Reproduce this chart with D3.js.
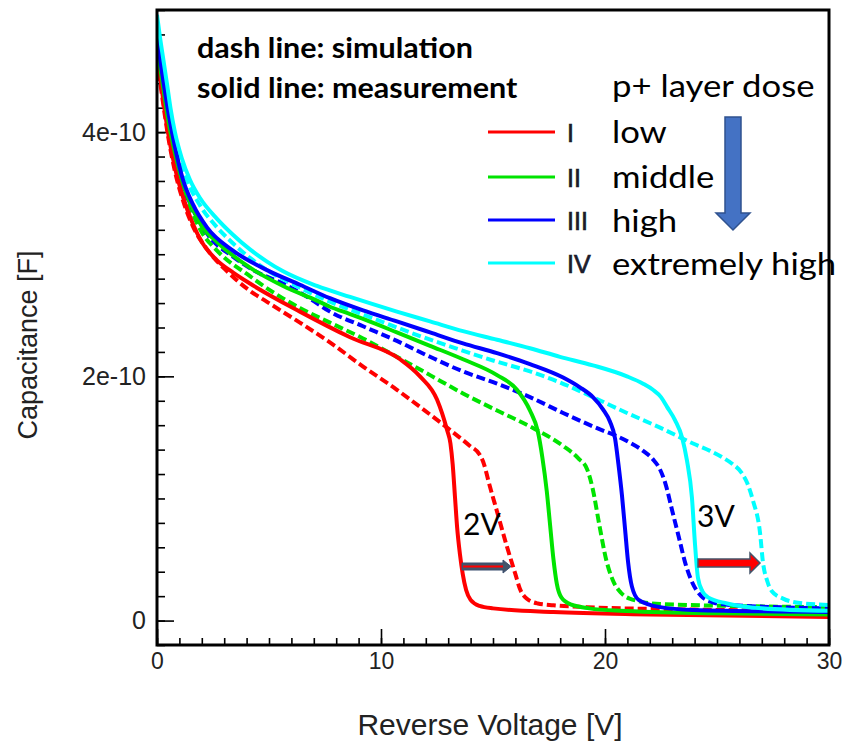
<!DOCTYPE html>
<html>
<head>
<meta charset="utf-8">
<script src="https://cdn.jsdelivr.net/npm/d3@7"></script>
<style>
  html, body { margin: 0; padding: 0; background: #fff; }
  svg { display: block; }
</style>
</head>
<body>
<svg id="chart" width="844" height="746"></svg>
<script>
// ---------------- DATA (capacitance in pF, i.e. 1e-12 F) ----------------
const xTickLabels = ["0", "10", "20", "30"];
const yTickValues = [0, 200, 400];
const yTickLabels = ["0", "2e-10", "4e-10"];

// I - low dose
const vMeasI = [0, 0.2, 0.5, 0.8, 1.16, 1.6, 2.0, 2.68, 3.4, 4.15, 6.38, 8.62, 10.85, 11.74, 12.5, 12.95, 13.1, 13.2, 13.3, 13.4, 13.52, 13.65, 13.8, 14.0, 14.4, 15, 17.7, 22, 30];
const cMeasI = [465, 437, 399, 371, 347, 325, 310, 295, 285, 276, 253, 232, 214, 200, 181, 156, 145, 128, 102, 76, 55, 38, 25, 17, 12, 10, 7, 5, 3];
const vSimI = [0, 0.2, 0.5, 0.8, 1.16, 1.6, 2.28, 3.13, 4.15, 4.91, 6.38, 7.86, 9.2, 10.71, 11.74, 12.95, 13.97, 14.4, 14.6, 14.8, 15.2, 15.6, 16.0, 16.2, 16.5, 17.0, 17.7, 19.2, 24, 30];
const cSimI = [460, 433, 396, 368, 344, 323, 303, 286, 270, 261, 244, 226, 208, 189, 175, 158, 143, 136, 128, 114, 88, 62, 38, 26, 18, 14, 12.5, 11, 9, 8];

// II - middle dose
const vMeasII = [0, 0.2, 0.5, 0.8, 1.16, 1.6, 2.0, 2.68, 4.15, 5.63, 7.14, 7.72, 8.62, 9.2, 10.71, 12.19, 13.66, 15.18, 16.07, 16.65, 17.0, 17.2, 17.4, 17.55, 17.7, 17.85, 18.05, 18.5, 19.3, 20.67, 25, 30];
const cMeasII = [470, 446, 410, 383, 358, 337, 323, 310, 289, 274, 262, 257, 251, 247, 236, 225, 214, 201, 189, 172, 155, 134, 106, 78, 50, 30, 19, 13, 10, 8, 6, 5];
const vSimII = [0, 0.2, 0.5, 0.8, 1.16, 1.6, 2.0, 2.68, 4.15, 5.0, 6.38, 7.72, 9.2, 10.71, 12.19, 13.66, 15.18, 16.65, 18.13, 18.8, 19.2, 19.45, 19.75, 20.05, 20.35, 20.7, 21.1, 22.46, 30];
const cSimII = [466, 441, 405, 378, 354, 333, 318, 303, 282, 271, 256, 244, 231, 216, 201, 186, 172, 159, 143, 133, 124, 108, 78, 50, 33, 23, 18, 13.5, 11];

// III - high dose
const vMeasIII = [0, 0.2, 0.5, 0.8, 1.16, 1.6, 2.23, 3.39, 4.91, 6.38, 7.72, 9.2, 10.71, 12.19, 13.66, 15.18, 16.65, 18.13, 18.88, 19.46, 19.91, 20.22, 20.45, 20.6, 20.76, 20.9, 21.03, 21.2, 21.5, 22.46, 23.93, 30];
const cMeasIII = [478, 452, 417, 388, 361, 341, 322, 303, 287, 275, 264, 254, 245, 236, 227, 219, 210, 199, 191, 183, 173, 163, 149, 128, 102, 74, 48, 28, 17, 11, 8.7, 7];
const vSimIII = [0, 0.2, 0.5, 0.8, 1.16, 1.6, 2.23, 3.39, 4.5, 5.63, 6.8, 7.72, 9.2, 10.71, 12.19, 13.66, 15.18, 16.65, 18.13, 19.46, 20.98, 21.7, 22.14, 22.45, 22.7, 23.0, 23.3, 23.6, 23.9, 24.3, 24.8, 25.45, 30];
const cSimIII = [474, 448, 413, 384, 357, 337, 317, 298, 285, 276, 264, 253, 241, 229, 216, 204, 194, 183, 170, 159, 147, 139, 132, 124, 112, 90, 68, 46, 31, 20, 15, 13, 10];

// IV - extremely high dose
const vMeasIV = [0, 0.13, 0.27, 0.45, 0.6, 0.8, 1.1, 1.47, 1.92, 2.68, 3.39, 4.15, 4.91, 5.63, 7.14, 8.62, 10.71, 12.19, 13.66, 15.18, 16.65, 17.99, 19.46, 20.98, 21.7, 22.14, 22.5, 22.77, 23.13, 23.44, 23.66, 23.88, 24.02, 24.15, 24.35, 24.6, 25.45, 27, 30];
const cMeasIV = [496, 478, 461, 439, 420, 400, 379, 361, 346, 329, 316, 304, 294, 286, 274, 265, 253, 245, 237, 230, 223, 216, 209, 200, 194, 189, 183, 175, 164, 150, 131, 101, 62, 35, 24, 19, 14, 10, 8];
const vSimIV = [0, 0.13, 0.27, 0.45, 0.6, 0.8, 1.1, 1.47, 1.92, 2.68, 3.39, 4.15, 5, 6, 7, 8, 9, 10, 11.74, 13.5, 15, 16.65, 17.99, 19.46, 20.98, 22.46, 23.93, 24.69, 25.3, 25.71, 26.1, 26.34, 26.61, 26.92, 27.05, 27.25, 27.45, 27.95, 28.7, 30];
const cSimIV = [490, 473, 456, 434, 415, 394, 373, 355, 340, 322, 309, 297, 286, 276, 267, 259, 252, 245, 233, 222, 213, 204, 195, 183, 170, 158, 145, 139, 133, 128, 121, 113, 98, 72, 48, 32, 24, 18, 14.4, 12.8];

const seriesNames = ["I", "II", "III", "IV"];
const doseLabels = ["low", "middle", "high", "extremely high"];
const seriesColors = ["#ff0000", "#00e400", "#0000ff", "#00ffff"];

// ---------------- CHART ----------------
const svg = d3.select("#chart");
svg.append("rect").attr("width", 844).attr("height", 746).attr("fill", "#fff");

const x = d3.scaleLinear().domain([0, 30]).range([157, 829]);
const y = d3.scaleLinear().domain([-20, 500]).range([645, 10]);

svg.append("clipPath").attr("id", "clip")
  .append("rect").attr("x", 157).attr("y", 10).attr("width", 672).attr("height", 635);

const axisFont = "'Liberation Sans', Arial, sans-serif";
// x axis: minor + major ticks (inward)
const gx = svg.append("g").attr("transform", "translate(0,645)");
gx.call(d3.axisBottom(x).tickValues(d3.range(0, 31, 1)).tickSize(-7).tickFormat(""));
gx.call(g => g.select(".domain").remove());
const gxM = svg.append("g").attr("class", "xmaj").attr("transform", "translate(0,645)");
gxM.call(d3.axisBottom(x).tickValues([0, 10, 20, 30]).tickSize(-16).tickPadding(8)
  .tickFormat((d, i) => xTickLabels[i]));
gxM.call(g => g.select(".domain").remove());

// y axis: minor + major ticks (inward)
const gy = svg.append("g").attr("transform", "translate(157,0)");
gy.call(d3.axisLeft(y).tickValues(d3.range(-20, 501, 20)).tickSize(-8).tickFormat(""));
gy.call(g => g.select(".domain").remove());
const gyM = svg.append("g").attr("class", "ymaj").attr("transform", "translate(157,0)");
gyM.call(d3.axisLeft(y).tickValues(yTickValues).tickSize(-17).tickPadding(11)
  .tickFormat((d, i) => yTickLabels[i]));
gyM.call(g => g.select(".domain").remove());

svg.selectAll(".tick line").attr("stroke", "#000").attr("stroke-width", 1.6);
svg.selectAll(".tick text").attr("font-family", axisFont).attr("fill", "#222");
svg.selectAll(".xmaj .tick text").attr("font-size", 23);
svg.selectAll(".ymaj .tick text").attr("font-size", 25);

// curves
const line = d3.line().x(d => x(d[0])).y(d => y(d[1])).curve(d3.curveMonotoneX);
const measV = [vMeasI, vMeasII, vMeasIII, vMeasIV];
const measC = [cMeasI, cMeasII, cMeasIII, cMeasIV];
const simV = [vSimI, vSimII, vSimIII, vSimIV];
const simC = [cSimI, cSimII, cSimIII, cSimIV];

const curves = svg.append("g").attr("clip-path", "url(#clip)");
for (let i = 0; i < 4; i++) {
  const pts = simV[i].map((v, j) => [v, simC[i][j]]);
  curves.append("path").attr("d", line(pts)).attr("fill", "none")
    .attr("stroke", seriesColors[i]).attr("stroke-width", 4)
    .attr("stroke-dasharray", "9,4");
}
for (let i = 0; i < 4; i++) {
  const pts = measV[i].map((v, j) => [v, measC[i][j]]);
  curves.append("path").attr("d", line(pts)).attr("fill", "none")
    .attr("stroke", seriesColors[i]).attr("stroke-width", 4);
}

// frame
svg.append("rect").attr("x", 157).attr("y", 10).attr("width", 672).attr("height", 635)
  .attr("fill", "none").attr("stroke", "#000").attr("stroke-width", 3);

// axis titles
svg.append("text").attr("x", 490).attr("y", 735).attr("text-anchor", "middle")
  .attr("font-family", axisFont).attr("font-size", 30).attr("fill", "#222")
  .text("Reverse Voltage [V]");
svg.append("text").attr("transform", "translate(37,345) rotate(-90)").attr("text-anchor", "middle")
  .attr("font-family", axisFont).attr("font-size", 27).attr("fill", "#222")
  .text("Capacitance [F]");

// annotations
const annFont = "Lato, 'Open Sans', sans-serif";
function stretchedText(xp, yp, sx, size, weight, txt) {
  svg.append("text").attr("transform", `translate(${xp},${yp}) scale(${sx},1)`)
    .attr("font-family", annFont).attr("font-weight", weight)
    .attr("font-size", size).attr("fill", "#000").text(txt);
}
stretchedText(197, 58, 1.09, 28, "bold", "dash line: simulation");
stretchedText(197, 98, 1.09, 28, "bold", "solid line: measurement");
stretchedText(612, 97, 1.12, 31, "normal", "p+ layer dose");

const legendY = [132, 177, 220, 263];
const legendTextY = [143, 188, 232, 275];
for (let i = 0; i < 4; i++) {
  svg.append("line").attr("x1", 488).attr("x2", 555).attr("y1", legendY[i]).attr("y2", legendY[i])
    .attr("stroke", seriesColors[i]).attr("stroke-width", 3);
  svg.append("text").attr("x", 567).attr("y", legendY[i] + 10).attr("font-family", axisFont)
    .attr("font-size", 25).attr("fill", "#1b1b2b").attr("stroke", "#1b1b2b").attr("stroke-width", 0.7)
    .text(seriesNames[i]);
  stretchedText(612, legendTextY[i], 1.12, 31, "normal", doseLabels[i]);
}

// big down arrow
svg.append("path")
  .attr("d", "M725,117 L741,117 L741,213 L750,213 L733,230 L716,213 L725,213 Z")
  .attr("fill", "#4472c4").attr("stroke", "#2f528f").attr("stroke-width", 1.5);

// 2V arrow
svg.append("path")
  .attr("d", "M462,563 L503,563 L503,560 L511,566.5 L503,573 L503,570 L462,570 Z")
  .attr("fill", "#44546a").attr("stroke", "#3b4e6e").attr("stroke-width", 1);
svg.append("line").attr("x1", 463).attr("x2", 503).attr("y1", 566.5).attr("y2", 566.5)
  .attr("stroke", "#ff0000").attr("stroke-width", 2);
svg.append("text").attr("x", 463).attr("y", 535).attr("font-family", annFont)
  .attr("font-size", 30).attr("fill", "#000").text("2V");

// 3V arrow
svg.append("path")
  .attr("d", "M698,559 L750,559 L750,553 L760,563 L750,573 L750,567 L698,567 Z")
  .attr("fill", "#ff0000").attr("stroke", "#44546a").attr("stroke-width", 1.5);
svg.append("text").attr("x", 697).attr("y", 527).attr("font-family", annFont)
  .attr("font-size", 30).attr("fill", "#000").text("3V");
</script>
</body>
</html>
